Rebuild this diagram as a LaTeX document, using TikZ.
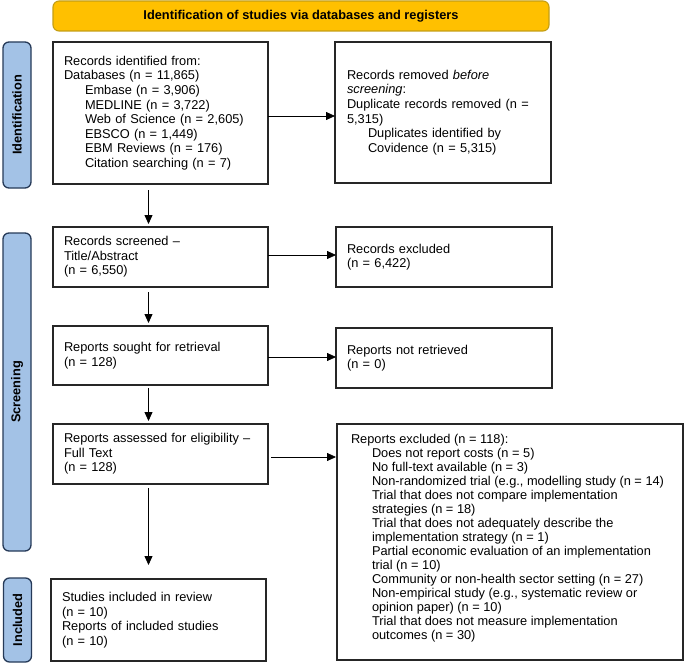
\documentclass[tikz,border=0pt]{standalone}
\usepackage{fontspec}
\setmainfont{Liberation Sans}
\usetikzlibrary{arrows.meta,calc}
\definecolor{bannerfill}{RGB}{255,192,0}
\definecolor{bannerdraw}{RGB}{196,158,20}
\definecolor{sidefill}{RGB}{163,194,230}
\definecolor{sidedraw}{RGB}{38,58,88}
\newcommand{\ind}{\hspace*{21pt}}
\begin{document}
\begin{tikzpicture}[x=1pt,y=-1pt,
  every node/.style={inner sep=0pt, outer sep=0pt},
  fbox/.style={draw=black!85, line width=1.2pt, align=left, inner xsep=11pt,
    font=\fontsize{12.8}{14.6}\selectfont},
  side/.style={draw=sidedraw, fill=sidefill, line width=1.3pt, rounded corners=6pt,
    rotate=90, minimum height=28pt, font=\bfseries\fontsize{12.8}{14.6}\selectfont},
  arr/.style={-{Triangle[length=9pt,width=8pt]}, line width=0.8pt}]
\useasboundingbox (0,0) rectangle (685,666);

% banner
\node[draw=bannerdraw, fill=bannerfill, line width=1.1pt, rounded corners=6pt,
  minimum width=496pt, minimum height=30pt, font=\bfseries\fontsize{12.8}{14.6}\selectfont]
  (banner) at (301,16) {Identification of studies via databases and registers};

% side labels
\node[side, minimum width=146pt] (idlab) at (17,115) {Identification};
\node[side, minimum width=318pt] (scrlab) at (17,392) {Screening};
\node[side, minimum width=84pt] (inclab) at (17.5,620) {Included};

% identification
\node[fbox, minimum width=215pt, minimum height=142pt, text width=193pt] (box1) at (160.5,113)
 {Records identified from:\\
  Databases (n = 11,865)\\
  \ind Embase (n = 3,906)\\
  \ind MEDLINE (n = 3,722)\\
  \ind Web of Science (n = 2,605)\\
  \ind EBSCO (n = 1,449)\\
  \ind EBM Reviews (n = 176)\\
  \ind Citation searching (n = 7)};
\node[fbox, minimum width=216pt, minimum height=141pt, text width=192pt, inner xsep=12pt] (removed) at (443,112.5)
 {Records removed \textit{before}\\
  \textit{screening}:\\
  Duplicate records removed (n =\\
  5,315)\\
  \ind Duplicates identified by\\
  \ind Covidence (n = 5,315)};

% screening
\node[fbox, minimum width=215pt, minimum height=60pt, text width=193pt] (screened) at (160.5,257)
 {Records screened –\\ Title/Abstract\\ (n = 6,550)};
\node[fbox, minimum width=216pt, minimum height=60pt, text width=194pt] (excl) at (444,257)
 {Records excluded\\ (n = 6,422)};
\node[fbox, minimum width=215pt, minimum height=59pt, text width=193pt] (sought) at (160.5,355.5)
 {Reports sought for retrieval\\ (n = 128)};
\node[fbox, minimum width=216pt, minimum height=60pt, text width=194pt] (notret) at (444,358)
 {Reports not retrieved\\ (n = 0)};
\node[fbox, minimum width=215pt, minimum height=60pt, text width=193pt] (assessed) at (160.5,454)
 {Reports assessed for eligibility –\\ Full Text\\ (n = 128)};
\node[fbox, minimum width=346pt, minimum height=236pt] (repexcl) at (510,542) {};
\node[anchor=north west, align=left, font=\fontsize{12.8}{14}\selectfont] (repexcltxt) at (351,434)
 {Reports excluded (n = 118):\\
  \ind Does not report costs (n = 5)\\
  \ind No full-text available (n = 3)\\
  \ind Non-randomized trial (e.g., modelling study (n = 14)\\
  \ind Trial that does not compare implementation\\
  \ind strategies (n = 18)\\
  \ind Trial that does not adequately describe the\\
  \ind implementation strategy (n = 1)\\
  \ind Partial economic evaluation of an implementation\\
  \ind trial (n = 10)\\
  \ind Community or non-health sector setting (n = 27)\\
  \ind Non-empirical study (e.g., systematic review or\\
  \ind opinion paper) (n = 10)\\
  \ind Trial that does not measure implementation\\
  \ind outcomes (n = 30)};

% included
\node[fbox, minimum width=215pt, minimum height=82pt, text width=193pt] (included) at (158.5,620)
 {Studies included in review\\ (n = 10)\\ Reports of included studies\\ (n = 10)};

% connectors
\coordinate (ax) at (148.5,0);
\draw[arr, shorten <=6pt, shorten >=3pt] (box1.south -| ax) -- (screened.north -| ax);
\draw[arr, shorten <=5pt, shorten >=3pt] (screened.south -| ax) -- (sought.north -| ax);
\draw[arr, shorten <=3pt, shorten >=3pt] (sought.south -| ax) -- (assessed.north -| ax);
\draw[arr, shorten <=4pt, shorten >=14pt] (assessed.south -| ax) -- (included.north -| ax);

\coordinate (h1) at (0,116);
\coordinate (h2) at (0,255);
\coordinate (h3) at (0,357);
\coordinate (h4) at (0,457);
\draw[arr] (box1.east |- h1) -- (removed.west |- h1);
\draw[arr] (screened.east |- h2) -- (excl.west |- h2);
\draw[arr] (sought.east |- h3) -- (notret.west |- h3);
\draw[arr, shorten <=3pt, shorten >=1pt] (assessed.east |- h4) -- (repexcl.west |- h4);
\end{tikzpicture}
\end{document}
